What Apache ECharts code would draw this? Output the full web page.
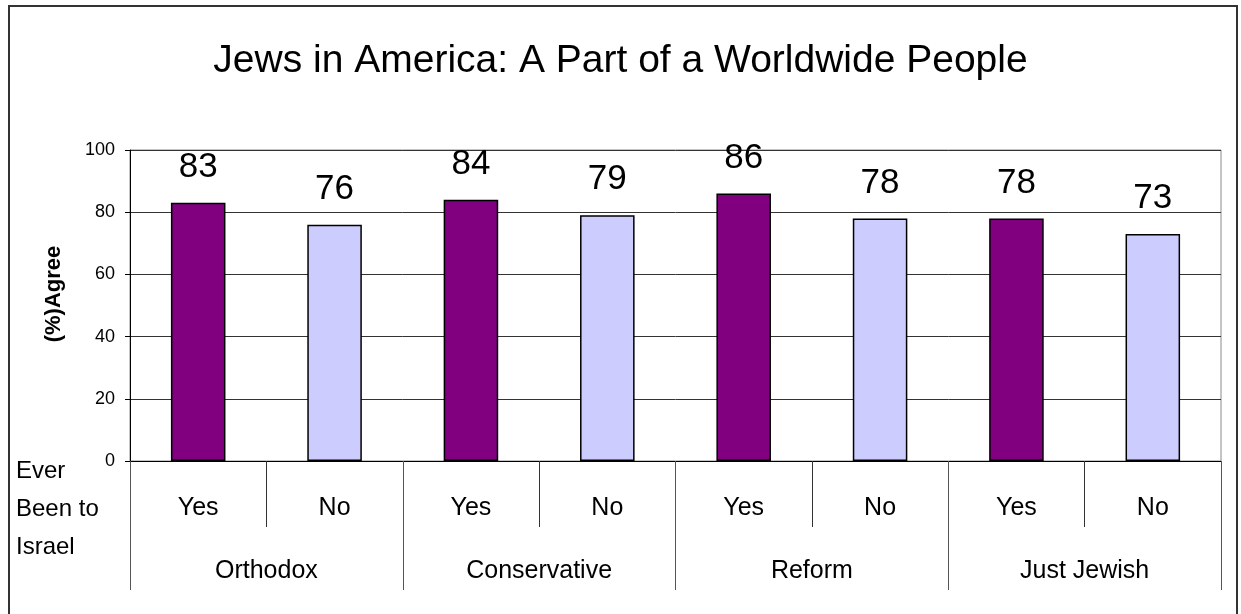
<!DOCTYPE html>
<html>
<head>
<meta charset="utf-8">
<title>Jews in America: A Part of a Worldwide People</title>
<script src="https://cdn.jsdelivr.net/npm/echarts@6/dist/echarts.min.js"></script>
<style>
  html, body { margin: 0; padding: 0; background: #fff; }
  #chart { width: 1241px; height: 614px; }
</style>
</head>
<body>
<div id="chart"></div>
<script>
// Denominations and the "ever been to Israel" split within each
const groups = ['Orthodox', 'Conservative', 'Reform', 'Just Jewish'];
const answers = ['Yes', 'No'];
// Percent agreeing, per denomination
const yesValues = [83, 84, 86, 78];
const noValues = [76, 79, 78, 73];
const yTicks = [0, 20, 40, 60, 80, 100];

const FONT = '"Liberation Sans", Arial, Helvetica, sans-serif';
const COLOR_YES = '#800080';
const COLOR_NO = '#CCCCFF';

// Flatten into one category per bar: Yes/No repeated under each group
const innerCats = [];
const barData = [];
groups.forEach((g, i) => {
  answers.forEach((a, j) => {
    innerCats.push(a);
    barData.push({
      value: j === 0 ? yesValues[i] : noValues[i],
      itemStyle: { color: j === 0 ? COLOR_YES : COLOR_NO }
    });
  });
});

const chart = echarts.init(document.getElementById('chart'), null, { renderer: 'canvas' });

chart.setOption({
  animation: false,
  backgroundColor: '#ffffff',
  title: {
    text: 'Jews in America: A Part of a Worldwide People',
    left: 'center',
    top: 37,
    textStyle: { fontFamily: FONT, fontSize: 39, fontWeight: 'normal', color: '#000' }
  },
  grid: {
    left: 130, right: 20, top: 150, bottom: 153,
    show: true, borderColor: '#8a8a8a', borderWidth: 1, backgroundColor: 'transparent'
  },
  xAxis: [
    {
      type: 'category',
      data: innerCats,
      position: 'bottom',
      axisLine: { show: true, lineStyle: { color: '#000', width: 1 } },
      axisTick: { show: true, interval: 0, length: 66, lineStyle: { color: '#333', width: 1 } },
      axisLabel: { interval: 0, margin: 35, fontFamily: FONT, fontSize: 25, lineHeight: 25, color: '#000' },
      splitLine: { show: false }
    },
    {
      type: 'category',
      data: groups,
      position: 'bottom',
      axisLine: { show: false },
      axisTick: { show: true, interval: 0, length: 129, lineStyle: { color: '#555', width: 1 } },
      axisLabel: { interval: 0, margin: 98, fontFamily: FONT, fontSize: 25, lineHeight: 25, color: '#000' },
      splitLine: { show: false }
    }
  ],
  yAxis: {
    type: 'value',
    min: yTicks[0],
    max: yTicks[yTicks.length - 1],
    interval: yTicks[1] - yTicks[0],
    axisLine: { show: true, lineStyle: { color: '#000', width: 1 } },
    axisTick: { show: true, length: 5, lineStyle: { color: '#000' } },
    axisLabel: { margin: 15, fontFamily: FONT, fontSize: 18, color: '#000' },
    splitLine: { show: true, lineStyle: { color: '#333', width: 1 } }
  },
  series: [{
    type: 'bar',
    xAxisIndex: 0,
    data: barData,
    barWidth: '40%',
    itemStyle: { borderColor: '#000', borderWidth: 1.5 },
    label: {
      show: true,
      position: 'top',
      distance: 18,
      fontFamily: FONT,
      fontSize: 35,
      color: '#000'
    }
  }],
  graphic: [
    {
      type: 'rect',
      shape: { x: 9, y: 6, width: 1228, height: 640 },
      style: { fill: null, stroke: '#333', lineWidth: 2 },
      silent: true
    },
    {
      type: 'text',
      x: 54, y: 294,
      rotation: Math.PI / 2,
      style: {
        text: '(%)Agree',
        fontFamily: FONT, fontSize: 22, fontWeight: 'bold', fill: '#000',
        align: 'center', verticalAlign: 'middle'
      }
    },
    {
      type: 'text',
      left: 16, top: 452,
      style: {
        text: 'Ever\nBeen to\nIsrael',
        fontFamily: FONT, fontSize: 24, lineHeight: 38, fill: '#000'
      }
    }
  ]
});
</script>
</body>
</html>
